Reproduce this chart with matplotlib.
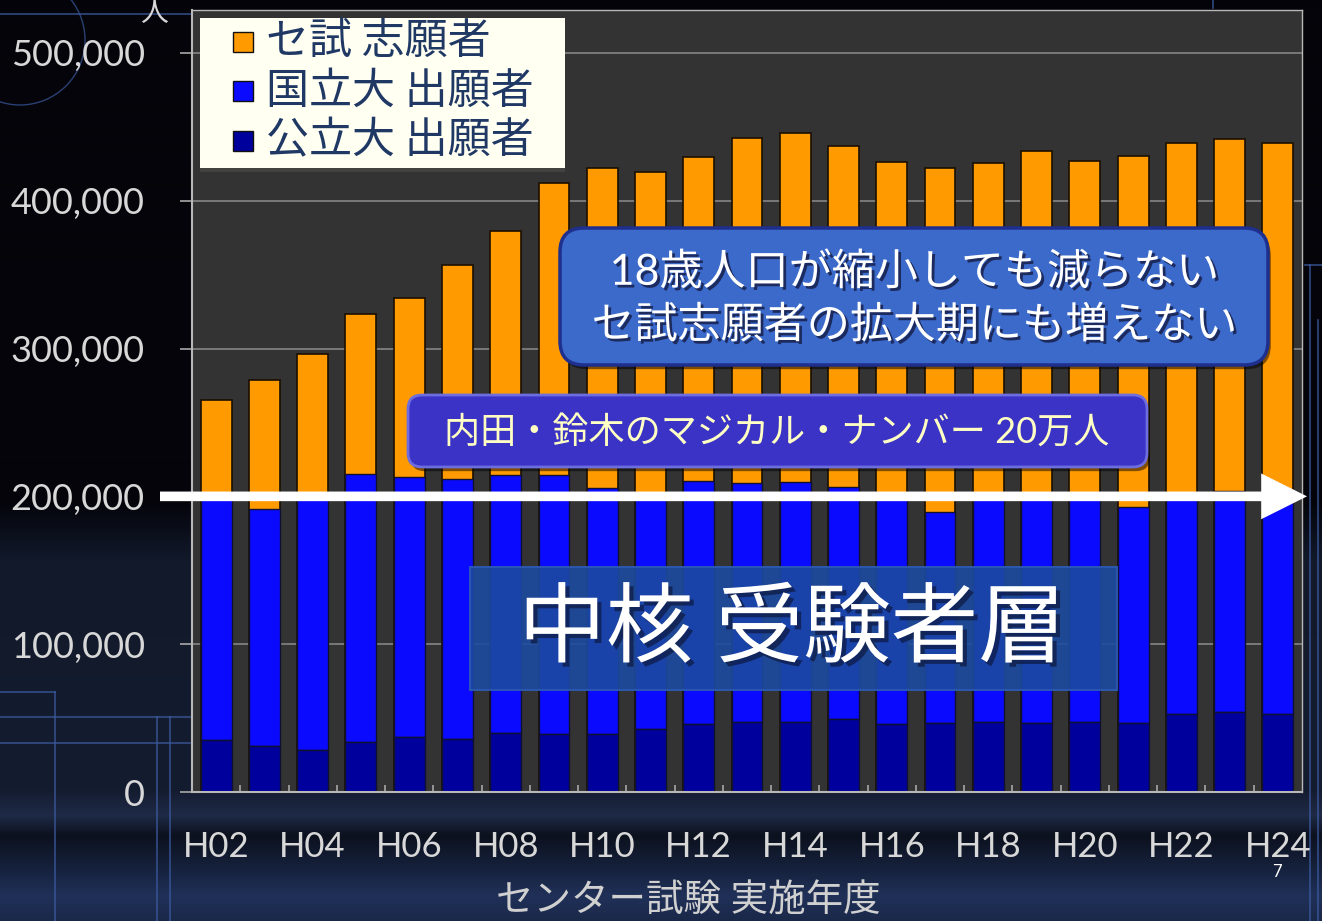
import numpy as np
import matplotlib
matplotlib.use("Agg")
import matplotlib.pyplot as plt
from matplotlib.patches import FancyBboxPatch, Rectangle
from matplotlib.lines import Line2D
from matplotlib.ticker import StrMethodFormatter
import matplotlib.patheffects as pe

plt.rcParams['font.family'] = ['Lato', 'Noto Sans CJK JP', 'DejaVu Sans']

# センター試験 実施年度 H02..H24
years = ['H%02d' % y for y in range(2, 25)]
# セ試 志願者 (total applicants)
applicants = [265200, 278700, 296300, 323400, 334400, 356600, 379600, 412300,
              422400, 419500, 429400, 442700, 445600, 437100, 426000, 421800,
              425600, 433500, 427100, 430500, 438900, 441600, 438900]
# 国立大 出願者
national = [163800, 160200, 170600, 181300, 176000, 176000, 174400, 175300,
            166300, 159700, 164600, 161700, 162300, 156900, 153200, 142700,
            151400, 152500, 151400, 146500, 149300, 149800, 148800]
# 公立大 出願者
public = [35200, 31300, 28400, 33600, 37400, 35800, 40100, 39200,
          39200, 42400, 46000, 47600, 47600, 49600, 45800, 46500,
          47600, 46500, 47600, 46500, 52800, 53900, 52800]
legend_labels = ['セ試 志願者', '国立大 出願者', '公立大 出願者']
colors = ['#ff9a00', '#0a0aff', '#00009c']

W, H = 1322, 921
fig = plt.figure(figsize=(W / 100, H / 100), dpi=100)

# background: dark slide with navy bands
bg = fig.add_axes([0, 0, 1, 1], zorder=-10)
rows = np.arange(H)
stops = [0, 500, 560, 790, 815, 835, 870, 895, 921]
rr = [4, 4, 17, 20, 30, 12, 22, 32, 26]
gg = [4, 4, 25, 28, 42, 17, 34, 48, 40]
bb = [10, 10, 42, 48, 70, 30, 62, 88, 72]
col = np.stack([np.interp(rows, stops, rr), np.interp(rows, stops, gg),
                np.interp(rows, stops, bb)], axis=1) / 255.0
img = np.repeat(col[:, None, :], W, axis=1)
bg.imshow(img, aspect='auto', extent=[0, W, H, 0])
bg.set_xlim(0, W)
bg.set_ylim(H, 0)
bg.axis('off')
lc = '#3c5aa0'
for xs, ys in [([0, 190], [14, 14]), ([0, 55], [692, 692]), ([55, 55], [692, 921]),
               ([0, 190], [717, 717]), ([0, 190], [743, 743]),
               ([157, 157], [717, 921]), ([170, 170], [717, 921]),
               ([1305, 1322], [265, 265]), ([1310, 1310], [265, 921]),
               ([1318, 1318], [320, 921]), ([1213, 1213], [0, 8])]:
    bg.add_line(Line2D(xs, ys, color=lc, lw=1.2, alpha=0.8))
bg.add_patch(matplotlib.patches.Arc((20, 40), 130, 130, color=lc, lw=1, alpha=0.7))

# main chart
ax = fig.add_axes([192 / W, 129 / H, 1110 / W, 782 / H])
ax.set_facecolor('#333333')
x = np.arange(len(years))
bw = 0.64
ax.bar(x, applicants, width=bw, color=colors[0], edgecolor='#1a1000', lw=1.2)
ax.bar(x, national, bottom=public, width=bw, color=colors[1], edgecolor='#101030', lw=1.0)
ax.bar(x, public, width=bw, color=colors[2], edgecolor='#101030', lw=1.0)
ax.set_xlim(-0.5, len(years) - 0.5)
ax.set_ylim(0, 529000)
ax.set_axisbelow(True)
ax.yaxis.grid(True, color='#858585', lw=1.2)
ax.set_yticks(range(0, 500001, 100000))
ax.yaxis.set_major_formatter(StrMethodFormatter('{x:,.0f}'))
ax.tick_params(axis='y', colors='#a8a8a8', labelcolor='#d8d8d8', labelsize=26,
               length=9, width=1.2, pad=25)
ax.set_xticks(x[::2])
ax.set_xticklabels(years[::2])
ax.set_xticks(x[:-1] + 0.5, minor=True)
ax.tick_params(axis='x', which='major', length=0, labelcolor='#d8d8d8', labelsize=25, pad=28)
ax.tick_params(axis='x', which='minor', direction='in', length=5, width=1.2, colors='#a8a8a8')
for s in ax.spines.values():
    s.set_color('#b8b8b8')
    s.set_linewidth(1.5)
ax.spines['top'].set_linewidth(1.0)
ax.spines['right'].set_linewidth(1.0)

# 20万人 line
ax.annotate('', xy=(1307 / W, 200000), xycoords=('figure fraction', 'data'),
            xytext=(160 / W, 200000), textcoords=('figure fraction', 'data'),
            arrowprops=dict(arrowstyle='simple,head_length=1.0,head_width=1.0,tail_width=0.21',
                            mutation_scale=33, color='white', lw=0, shrinkA=0, shrinkB=0),
            annotation_clip=False, zorder=6)

# overlay in pixel coordinates
ov = fig.add_axes([0, 0, 1, 1], zorder=5)
ov.set_xlim(0, W)
ov.set_ylim(H, 0)
ov.axis('off')
ov.patch.set_alpha(0)

shadow = [pe.SimplePatchShadow(offset=(2, -3), shadow_rgbFace='black', alpha=0.5), pe.Normal()]
tshadow = [pe.SimplePatchShadow(offset=(2, -2), shadow_rgbFace='#101030', alpha=0.7), pe.Normal()]

# legend
ov.add_patch(Rectangle((200, 18), 365, 150, facecolor='#fffff2', edgecolor='none',
                       path_effects=[pe.SimplePatchShadow(offset=(0, -3), alpha=0.6), pe.Normal()]))
for i, (lab, c) in enumerate(zip(legend_labels, colors)):
    yc = 42 + i * 49.5
    ov.add_patch(Rectangle((233, yc - 10), 20, 20, facecolor=c, edgecolor='#111111', lw=1))
    ov.text(266, yc, lab, color='#1f3864', fontsize=31, va='center', ha='left',
            family=['Noto Sans CJK JP'])

# message boxes
ov.add_patch(FancyBboxPatch((560, 228), 708, 137, boxstyle='round,pad=0,rounding_size=24',
                            facecolor='#3b6acb', edgecolor='#1e2f8e', lw=2.5, path_effects=shadow))
ov.text(914, 272, '18歳人口が縮小しても減らない', color='white', fontsize=31,
        ha='center', va='center', path_effects=tshadow)
ov.text(914, 325, 'セ試志願者の拡大期にも増えない', color='white', fontsize=31,
        ha='center', va='center', path_effects=tshadow)

ov.add_patch(FancyBboxPatch((408, 395), 739, 72, boxstyle='round,pad=0,rounding_size=14',
                            facecolor='#3a33c6', edgecolor='#6d6de0', lw=2, path_effects=shadow))
ov.text(777, 432, '内田・鈴木のマジカル・ナンバー 20万人', color='#ffffc4', fontsize=26,
        ha='center', va='center')

ov.add_patch(Rectangle((470, 567), 647, 123, facecolor='#1c4aa0', edgecolor='#2c5ab4',
                       lw=1.5, alpha=0.9))
ov.text(792, 630, '中核 受験者層', color='white', fontsize=63, ha='center', va='center',
        path_effects=[pe.SimplePatchShadow(offset=(3, -3), shadow_rgbFace='#0a1030', alpha=0.6),
                      pe.Normal()])

# axis texts
ov.text(154, 13, '人', color='#d8d8d8', fontsize=20, ha='center', va='center')
ov.text(688, 900, 'センター試験 実施年度', color='#d0d0d0', fontsize=27, ha='center', va='center')
ov.text(1277, 872, '7', color='white', fontsize=12, ha='center', va='center')

fig.savefig('out.png', dpi=100, facecolor='black')
